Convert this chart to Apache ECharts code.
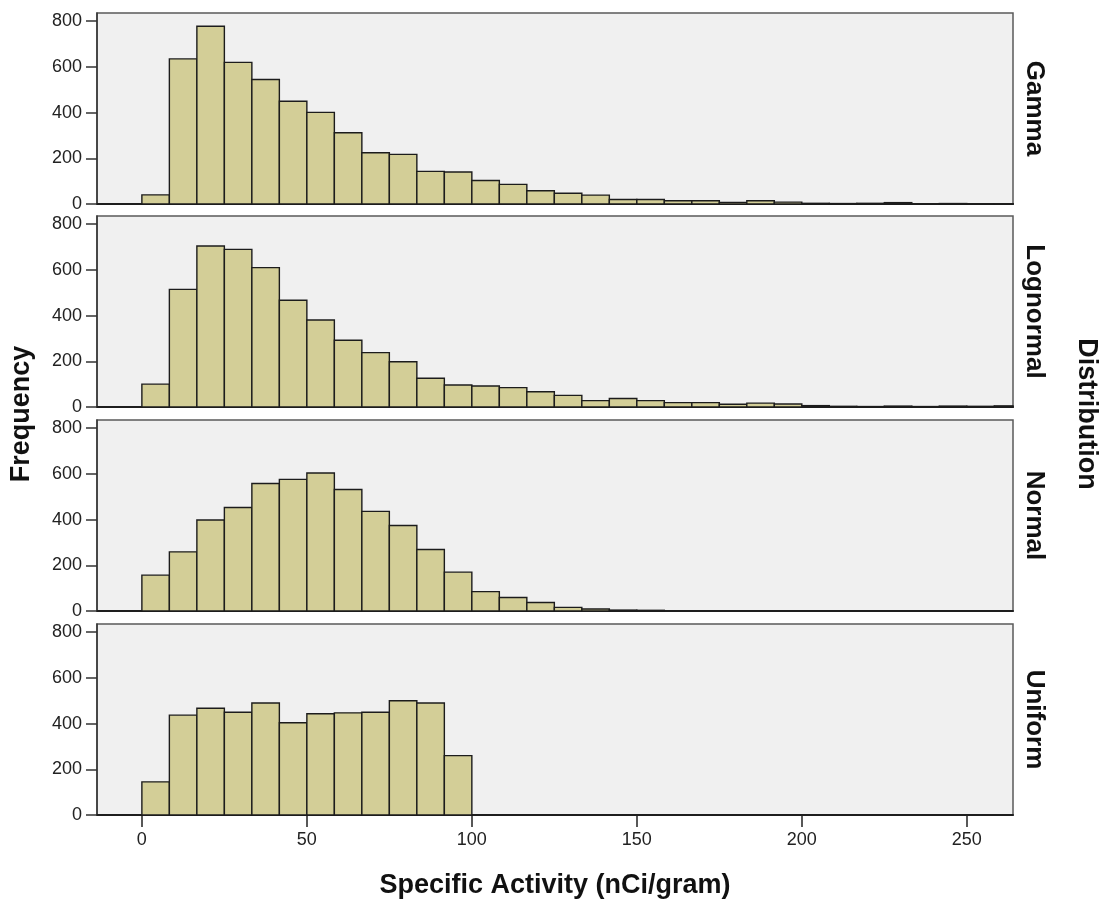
<!DOCTYPE html>
<html>
<head>
<meta charset="utf-8">
<title>Specific Activity histograms</title>
<script src="https://cdn.jsdelivr.net/npm/echarts@6/dist/echarts.min.js"></script>
<style>
  html, body { margin: 0; padding: 0; background: #fff; }
  #chart { width: 1101px; height: 902px; }
</style>
</head>
<body>
<div id="chart"></div>
<script>
// lower edges of the histogram bins (nCi/gram)
var binStarts = [0, 8.333, 16.667, 25, 33.333, 41.667, 50, 58.333, 66.667, 75, 83.333, 91.667,
  100, 108.333, 116.667, 125, 133.333, 141.667, 150, 158.333, 166.667, 175, 183.333, 191.667,
  200, 208.333, 216.667, 225, 233.333, 241.667, 250, 258.333, 266.667]

var distributions = ['Gamma', 'Lognormal', 'Normal', 'Uniform']

var gammaCounts = [40, 635, 778, 620, 545, 450, 401, 312, 224, 217, 143, 140, 103, 86, 58,
  47, 39, 20, 20, 14, 14, 7, 14, 8, 3, 2, 3, 6, 1, 2, 1, 1]
var lognormalCounts = [100, 515, 705, 690, 610, 467, 381, 292, 238, 198, 126, 96, 92, 85, 67,
  51, 28, 37, 28, 19, 19, 12, 17, 13, 6, 3, 2, 4, 2, 4, 3, 5]
var normalCounts = [157, 259, 398, 453, 558, 576, 604, 532, 436, 374, 269, 170, 85, 59, 37,
  16, 9, 4, 3]
var uniformCounts = [145, 437, 467, 450, 490, 404, 443, 447, 450, 500, 490, 260]

var xTicks = [0, 50, 100, 150, 200, 250]
var yTicks = [0, 200, 400, 600, 800]

var allCounts = [gammaCounts, lognormalCounts, normalCounts, uniformCounts]

var FONT = '"Liberation Sans", Arial, sans-serif'
var gridTops = [13, 216, 420, 624]
var gridHeight = 191

function toBins(counts) {
  var out = []
  for (var i = 0; i < counts.length; i++) {
    out.push([binStarts[i], binStarts[i + 1], counts[i]])
  }
  return out
}

function renderBin(params, api) {
  var p0 = api.coord([api.value(0), api.value(2)])
  var p1 = api.coord([api.value(1), 0])
  var rect = echarts.graphic.clipRectByRect({
    x: p0[0], y: p0[1], width: p1[0] - p0[0], height: p1[1] - p0[1]
  }, {
    x: params.coordSys.x, y: params.coordSys.y,
    width: params.coordSys.width, height: params.coordSys.height
  })
  if (!rect) return
  return {
    type: 'rect',
    shape: rect,
    style: { fill: '#D3CE97', stroke: '#1c1c1c', lineWidth: 1.4 }
  }
}

var grids = [], xAxes = [], yAxes = [], series = [], graphics = []
for (var k = 0; k < 4; k++) {
  var last = k === 3
  grids.push({
    left: 97, right: 88, top: gridTops[k], height: gridHeight,
    show: true, backgroundColor: '#F0F0F0', borderColor: '#5a5a5a', borderWidth: 1.5
  })
  xAxes.push({
    type: 'value', gridIndex: k, min: -13.6, max: 264,
    splitLine: { show: false },
    axisLine: { show: true, onZero: false, lineStyle: { color: '#1e1e1e', width: 2 } },
    axisTick: { show: last, customValues: xTicks, length: 12, lineStyle: { color: '#222', width: 1.5 } },
    axisLabel: { show: last, customValues: xTicks, margin: 16, color: '#222', fontSize: 18, fontFamily: FONT },
    name: last ? 'Specific Activity (nCi/gram)' : '',
    nameLocation: 'middle', nameGap: 57,
    nameTextStyle: { fontSize: 27, fontWeight: 'bold', color: '#111', fontFamily: FONT }
  })
  yAxes.push({
    type: 'value', gridIndex: k, min: 0, max: 836,
    splitLine: { show: false },
    axisLine: { show: true, onZero: false, lineStyle: { color: '#333', width: 1.5 } },
    axisTick: { show: true, customValues: yTicks, length: 11, lineStyle: { color: '#333', width: 1.5 } },
    axisLabel: { customValues: yTicks, margin: 15, color: '#222', fontSize: 18, fontFamily: FONT }
  })
  series.push({
    type: 'custom', name: distributions[k], xAxisIndex: k, yAxisIndex: k,
    renderItem: renderBin,
    encode: { x: [0, 1], y: 2 },
    data: toBins(allCounts[k])
  })
  graphics.push({
    type: 'text', x: 1034, y: gridTops[k] + gridHeight / 2, rotation: -Math.PI / 2,
    style: {
      text: distributions[k], textAlign: 'center', textVerticalAlign: 'middle',
      font: 'bold 26px ' + FONT, fill: '#111'
    }
  })
}

graphics.push({
  type: 'text', x: 22, y: 414, rotation: Math.PI / 2,
  style: { text: 'Frequency', textAlign: 'center', textVerticalAlign: 'middle', font: 'bold 27px ' + FONT, fill: '#111' }
})
graphics.push({
  type: 'text', x: 1086, y: 414, rotation: -Math.PI / 2,
  style: { text: 'Distribution', textAlign: 'center', textVerticalAlign: 'middle', font: 'bold 27px ' + FONT, fill: '#111' }
})

var chart = echarts.init(document.getElementById('chart'))
chart.setOption({
  animation: false,
  backgroundColor: '#ffffff',
  grid: grids,
  xAxis: xAxes,
  yAxis: yAxes,
  series: series,
  graphic: graphics
})
</script>
</body>
</html>
